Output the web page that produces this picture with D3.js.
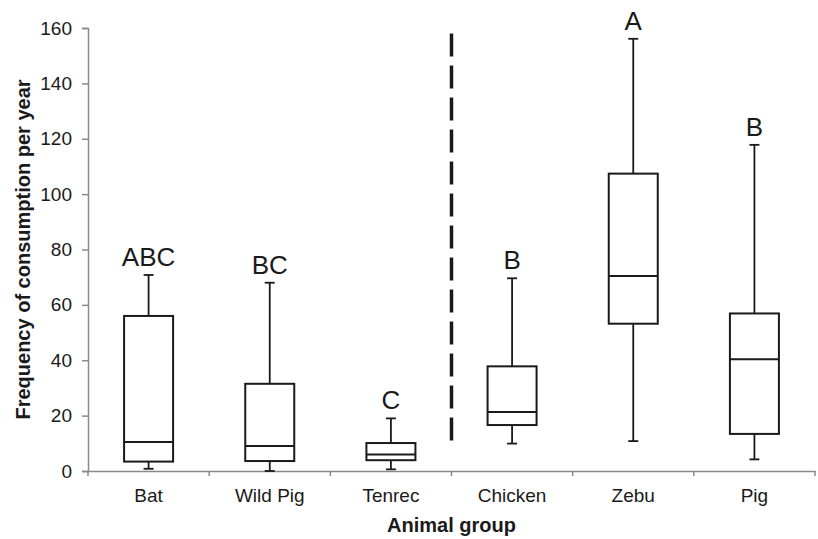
<!DOCTYPE html>
<html>
<head>
<meta charset="utf-8">
<script src="https://cdn.jsdelivr.net/npm/d3@7"></script>
<style>
  body { margin: 0; background: #fff; }
  text { font-family: "Liberation Sans", Arial, sans-serif; fill: #1a1a1a; }
</style>
</head>
<body>
<svg id="boxes" width="818" height="539"></svg>
<script>
// data
var groups = ['Bat', 'Wild Pig', 'Tenrec', 'Chicken', 'Zebu', 'Pig'];
var letters = ['ABC', 'BC', 'C', 'B', 'A', 'B'];
var lowWhisker = [0.8, 0, 0.6, 9.9, 10.8, 4.2];
var q1 = [3.4, 3.6, 3.9, 16.6, 53.2, 13.4];
var medians = [10.5, 9, 6, 21.3, 70.4, 40.4];
var q3 = [56, 31.5, 10.1, 37.8, 107.4, 56.9];
var highWhisker = [70.8, 68, 19, 69.6, 156.1, 117.8];
var yTicks = [0, 20, 40, 60, 80, 100, 120, 140, 160];
var dividerRange = [10, 158]; // extent of the dashed separator in y units

(function () {
    var svg = d3.select('#boxes'),
    margin = {top: 28, right: 3, bottom: 68, left: 88},
    width = +svg.attr('width') - margin.left - margin.right,
    height = +svg.attr('height') - margin.top - margin.bottom;

    var x = d3.scaleBand().domain(groups).range([0, width]),
    y = d3.scaleLinear().domain([0, 160]).range([height, 0]);

    var boxWidth = 49, capWidth = 10, ink = '#1a1a1a', axisGrey = '#8a8a8a';

    var g = svg.append('g')
    .attr('transform', 'translate(' + margin.left + ',' + margin.top + ')');

    var rows = groups.map(function (d, i) {
        return {name: d, letter: letters[i], lo: lowWhisker[i], q1: q1[i],
            med: medians[i], q3: q3[i], hi: highWhisker[i]};
    });

    // y axis
    var yAxis = g.append('g')
    .call(d3.axisLeft(y).tickValues(yTicks).tickSizeOuter(0).tickSize(6).tickPadding(10));
    yAxis.select('.domain').attr('stroke', axisGrey).attr('stroke-width', 1.5);
    yAxis.selectAll('.tick line').attr('stroke', axisGrey).attr('stroke-width', 1.5);
    yAxis.selectAll('.tick text')
    .style('font-size', '19px')
    .style('font-family', '"Liberation Sans", Arial, sans-serif')
    .attr('fill', '#1a1a1a');

    // x axis: line with ticks at band edges
    var xAxis = g.append('g')
    .attr('transform', 'translate(0,' + height + ')')
    .call(d3.axisBottom(x).tickSize(0).tickSizeOuter(0).tickPadding(18));
    xAxis.select('.domain').attr('stroke', axisGrey).attr('stroke-width', 1.5);
    xAxis.selectAll('.tick text')
    .style('font-size', '19px')
    .style('font-family', '"Liberation Sans", Arial, sans-serif')
    .attr('fill', '#1a1a1a');

    var edges = groups.map(function (d) { return x(d); }).concat([width]);
    xAxis.selectAll('.edge')
    .data(edges)
    .enter()
    .append('line')
    .attr('class', 'edge')
    .attr('x1', function (d) { return d; })
    .attr('x2', function (d) { return d; })
    .attr('y1', 0)
    .attr('y2', 5)
    .attr('stroke', axisGrey)
    .attr('stroke-width', 1.5);

    // axis titles
    g.append('text')
    .attr('x', width / 2)
    .attr('y', height + 61)
    .attr('text-anchor', 'middle')
    .style('font-size', '20px')
    .style('font-weight', 'bold')
    .text('Animal group');

    g.append('text')
    .attr('transform', 'rotate(-90)')
    .attr('x', -height / 2)
    .attr('y', -58)
    .attr('text-anchor', 'middle')
    .style('font-size', '20px')
    .style('font-weight', 'bold')
    .text('Frequency of consumption per year');

    // dashed divider between wild and domestic animals
    g.append('line')
    .attr('x1', x('Chicken'))
    .attr('x2', x('Chicken'))
    .attr('y1', y(dividerRange[1]))
    .attr('y2', y(dividerRange[0]))
    .attr('stroke', ink)
    .attr('stroke-width', 3.5)
    .attr('stroke-dasharray', '23,9');

    var box = g.selectAll('.box')
    .data(rows)
    .enter()
    .append('g')
    .attr('class', 'box')
    .attr('transform', function (d) { return 'translate(' + (x(d.name) + x.bandwidth() / 2) + ',0)'; });

    // whiskers
    box.append('line')
    .attr('y1', function (d) { return y(d.q3); })
    .attr('y2', function (d) { return y(d.hi); })
    .attr('stroke', ink).attr('stroke-width', 1.8);
    box.append('line')
    .attr('y1', function (d) { return y(d.q1); })
    .attr('y2', function (d) { return y(d.lo); })
    .attr('stroke', ink).attr('stroke-width', 1.8);

    // caps
    box.append('line')
    .attr('x1', -capWidth / 2).attr('x2', capWidth / 2)
    .attr('y1', function (d) { return y(d.hi); })
    .attr('y2', function (d) { return y(d.hi); })
    .attr('stroke', ink).attr('stroke-width', 1.8);
    box.append('line')
    .attr('x1', -capWidth / 2).attr('x2', capWidth / 2)
    .attr('y1', function (d) { return y(d.lo); })
    .attr('y2', function (d) { return y(d.lo); })
    .attr('stroke', ink).attr('stroke-width', 1.8);

    // boxes
    box.append('rect')
    .attr('x', -boxWidth / 2)
    .attr('width', boxWidth)
    .attr('y', function (d) { return y(d.q3); })
    .attr('height', function (d) { return y(d.q1) - y(d.q3); })
    .attr('fill', '#fff')
    .attr('stroke', ink)
    .attr('stroke-width', 2);

    // medians
    box.append('line')
    .attr('x1', -boxWidth / 2).attr('x2', boxWidth / 2)
    .attr('y1', function (d) { return y(d.med); })
    .attr('y2', function (d) { return y(d.med); })
    .attr('stroke', ink).attr('stroke-width', 2);

    // significance letters
    box.append('text')
    .attr('y', function (d) { return y(d.hi) - 9; })
    .attr('text-anchor', 'middle')
    .style('font-size', '26px')
    .text(function (d) { return d.letter; });
})();
</script>
</body>
</html>
